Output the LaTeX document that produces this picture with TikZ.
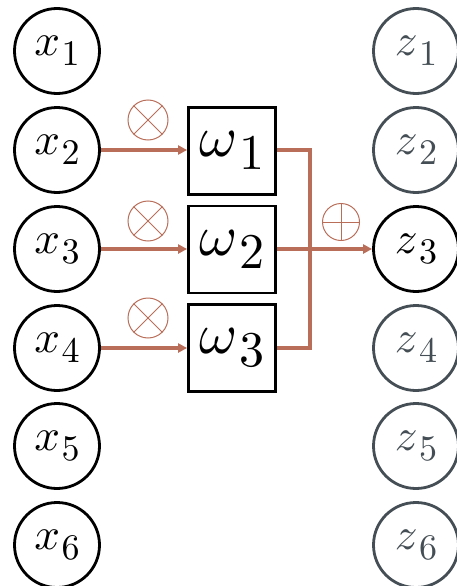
\documentclass[tikz,border=0pt]{standalone}
\usepackage{graphicx}
\usetikzlibrary{arrows.meta}
\definecolor{brn}{RGB}{185,110,90}
\definecolor{slate}{RGB}{68,78,84}
\newcommand\xlab[2]{\scalebox{4.5}{$#1$}\kern1.5pt\raisebox{-10pt}{\scalebox{3.6}{$#2$}}}
\newcommand\wlab[2]{\scalebox{5.8}{$#1$}\kern1pt\raisebox{-13pt}{\scalebox{5}{$#2$}}}
\tikzset{
  vnode/.style={circle, draw, line width=2.8pt, minimum size=85pt, inner sep=0pt},
  znode/.style={vnode, draw=slate, text=slate},
  wbox/.style={rectangle, draw, line width=2.8pt, minimum size=87pt, inner sep=0pt},
  conn/.style={draw=brn, line width=3.5pt},
  arr/.style={conn, -{Triangle[length=9pt,width=9pt]}},
  opnode/.style={circle, draw=brn, line width=1pt, minimum size=40pt, inner sep=0pt},
  opline/.style={draw=brn, line width=1pt}
}
\begin{document}
\begin{tikzpicture}[x=1pt,y=-1pt]
\useasboundingbox (0,0) rectangle (456,586);
\foreach \i/\y in {1/51,2/150,3/249,4/348,5/446,6/545}{
  \node[vnode] (x\i) at (57,\y) {\xlab{x}{\i}};
}
\foreach \i/\y in {1/51,2/150,4/348,5/446,6/545}{
  \node[znode] (z\i) at (416,\y) {\xlab{z}{\i}};
}
\node[vnode] (z3) at (416,249) {\xlab{z}{3}};
\node[wbox] (w1) at (232,151) {\wlab{\omega}{1}};
\node[wbox] (w2) at (232,249.5) {\wlab{\omega}{2}};
\node[wbox] (w3) at (232,348) {\wlab{\omega}{3}};
\draw[arr] (x2.east) -- (w1.west |- x2.east);
\draw[arr] (x3.east) -- (w2.west |- x3.east);
\draw[arr] (x4.east) -- (w3.west |- x4.east);
\coordinate (j1) at (310,150);
\coordinate (j3) at (310,348);
\coordinate (j2) at (310,249);
\draw[conn] (w1.east |- j1) -- (j1) -- (j3) -- (w3.east |- j3);
\draw[arr] (w2.east |- j2) -- (z3.west);
\foreach \i/\y in {1/120,2/221,3/318}{
  \node[opnode] (m\i) at (148,\y) {};
  \draw[opline] (m\i.north east) -- (m\i.south west);
  \draw[opline] (m\i.north west) -- (m\i.south east);
}
\node[opnode, minimum size=37pt] (s) at (341,222) {};
\draw[opline] (s.north) -- (s.south);
\draw[opline] (s.west) -- (s.east);
\end{tikzpicture}
\end{document}
